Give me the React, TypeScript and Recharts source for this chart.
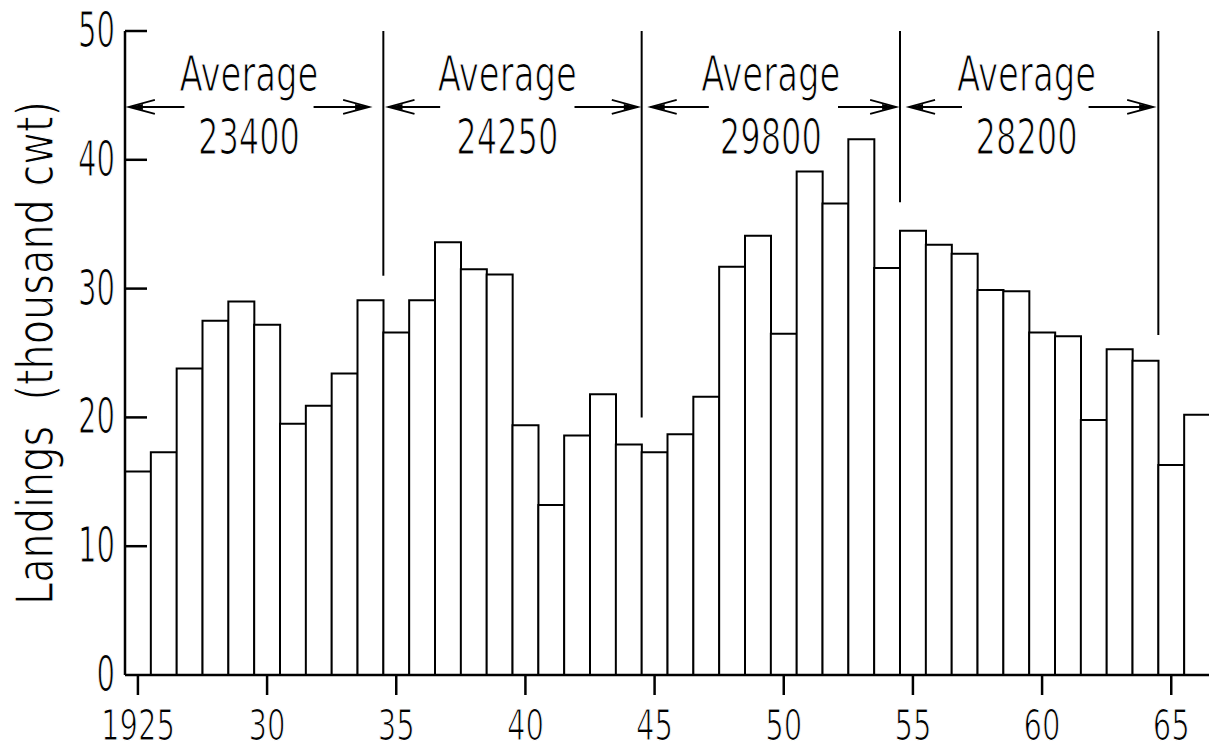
import { BarChart, Bar, XAxis, YAxis, ReferenceLine, ReferenceDot } from "recharts";

// landings per year, thousand cwt
const years = [
  1925, 1926, 1927, 1928, 1929, 1930, 1931, 1932, 1933, 1934,
  1935, 1936, 1937, 1938, 1939, 1940, 1941, 1942, 1943, 1944,
  1945, 1946, 1947, 1948, 1949, 1950, 1951, 1952, 1953, 1954,
  1955, 1956, 1957, 1958, 1959, 1960, 1961, 1962, 1963, 1964,
  1965, 1966,
];
const landings = [
  15.8, 17.3, 23.8, 27.5, 29.0, 27.2, 19.5, 20.9, 23.4, 29.1,
  26.6, 29.1, 33.6, 31.5, 31.1, 19.4, 13.2, 18.6, 21.8, 17.9,
  17.3, 18.7, 21.6, 31.7, 34.1, 26.5, 39.1, 36.6, 41.6, 31.6,
  34.5, 33.4, 32.7, 29.9, 29.8, 26.6, 26.3, 19.8, 25.3, 24.4,
  16.3, 20.2,
];
const xTicks = [1925, 1930, 1935, 1940, 1945, 1950, 1955, 1960, 1965];
const yTicks = [0, 10, 20, 30, 40, 50];

// decade periods and their averages
const dividerX = [1934.5, 1944.5, 1954.5, 1964.5];
const dividerBottom = [31.0, 20.0, 36.7, 26.4];
const averages = ["23400", "24250", "29800", "28200"];
const labelX = [1929.3, 1939.3, 1949.5, 1959.4];
const leftArrowFrom = [1926.8, 1936.7, 1947.1, 1956.9];
const leftArrowTip = [1924.65, 1934.7, 1944.85, 1954.85];
const rightArrowFrom = [1931.8, 1941.9, 1952.1, 1961.8];
const rightArrowTip = [1933.95, 1944.35, 1954.35, 1964.3];
const arrowY = 44.1;

const data = years.map((year, i) => ({ year, landings: landings[i] }));

const FONT = "'Liberation Sans Narrow', 'DejaVu Sans Condensed', sans-serif";
const DIGIT_W = 18.5;
// thin white outline makes the glyphs look lighter, like the drawing pen
const thin = { stroke: "#fff", strokeWidth: 1.2 };

const shortYear = (y: number) => (y === 1925 ? "1925" : String(y).slice(2));

const XTick = ({ x, y, payload }: any) => {
  const label = shortYear(Number(payload.value));
  return (
    <text
      x={x}
      y={y + 45}
      textAnchor="middle"
      fontFamily={FONT}
      fontSize={42}
      fill="#000"
      {...thin}
      textLength={label.length * DIGIT_W}
      lengthAdjust="spacingAndGlyphs"
    >
      {label}
    </text>
  );
};

const YTick = ({ x, y, payload }: any) => {
  const label = String(payload.value);
  return (
    <g>
      {payload.value > 0 && (
        <line x1={x} x2={x + 22} y1={y} y2={y} stroke="#000" strokeWidth={2.5} />
      )}
      <text
        x={x - 10}
        y={y + 16}
        textAnchor="end"
        fontFamily={FONT}
        fontSize={50}
        fill="#000"
        {...thin}
        textLength={label.length * DIGIT_W}
        lengthAdjust="spacingAndGlyphs"
      >
        {label}
      </text>
    </g>
  );
};

const ArrowShape = (p: any) => {
  const { x1, y1, x2, y2 } = p;
  const dir = Math.sign(x2 - x1);
  return (
    <g>
      <line x1={x1} y1={y1} x2={x2} y2={y2} stroke="#000" strokeWidth={2} />
      <polyline
        points={`${x2 - dir * 26},${y2 - 7} ${x2},${y2} ${x2 - dir * 26},${y2 + 7}`}
        fill="none"
        stroke="#000"
        strokeWidth={1.8}
      />
      <polygon
        points={`${x2 - dir * 14},${y2 - 3} ${x2},${y2} ${x2 - dir * 14},${y2 + 3}`}
        fill="#000"
      />
    </g>
  );
};

const AvgLabel = ({ cx, cy, value }: { cx: number; cy: number; value: string }) => (
  <g fontFamily={FONT} fontSize={50} fill="#000" {...thin}>
    <text x={cx} y={cy - 16} textAnchor="middle" textLength={139} lengthAdjust="spacingAndGlyphs">
      Average
    </text>
    <text x={cx} y={cy + 47} textAnchor="middle" textLength={102} lengthAdjust="spacingAndGlyphs">
      {value}
    </text>
  </g>
);

const YLabel = ({ viewBox }: any) => {
  const cy = viewBox.y + viewBox.height / 2;
  return (
    <text
      transform={`translate(53, ${cy}) rotate(-90)`}
      textAnchor="middle"
      fontFamily={FONT}
      fontSize={52}
      fill="#000"
      {...thin}
      textLength={504}
      lengthAdjust="spacingAndGlyphs"
      style={{ whiteSpace: "pre" }}
    >
      {"Landings  (thousand cwt)"}
    </text>
  );
};

export default function App() {
  return (
    <div style={{ position: "fixed", left: 0, top: 0, width: 1209, height: 749, overflow: "hidden", background: "#fff" }}>
      <BarChart
        width={1210}
        height={749}
        data={data}
        margin={{ top: 31, right: 0, bottom: 0, left: 0 }}
        barCategoryGap={0}
        barGap={0}
      >
        <XAxis
          dataKey="year"
          type="number"
          domain={[1924.5, 1966.5]}
          allowDataOverflow
          ticks={xTicks}
          interval={0}
          height={74}
          tickSize={20}
          tickMargin={0}
          axisLine={{ stroke: "#000", strokeWidth: 2.5 }}
          tickLine={{ stroke: "#000", strokeWidth: 2.5 }}
          tick={<XTick />}
        />
        <YAxis
          width={125}
          domain={[0, 50]}
          ticks={yTicks}
          interval={0}
          tickSize={0}
          tickMargin={0}
          tickLine={false}
          axisLine={{ stroke: "#000", strokeWidth: 2.5 }}
          tick={<YTick />}
          label={{ content: <YLabel /> }}
        />
        <Bar
          dataKey="landings"
          fill="#fff"
          stroke="#000"
          strokeWidth={2}
          isAnimationActive={false}
        />
        {dividerX.map((x, i) => (
          <ReferenceLine
            key={`d${i}`}
            segment={[{ x, y: 50 }, { x, y: dividerBottom[i] }]}
            stroke="#000"
            strokeWidth={2}
          />
        ))}
        {leftArrowTip.map((tip, i) => (
          <ReferenceLine
            key={`la${i}`}
            segment={[{ x: leftArrowFrom[i], y: arrowY }, { x: tip, y: arrowY }]}
            shape={ArrowShape}
          />
        ))}
        {rightArrowTip.map((tip, i) => (
          <ReferenceLine
            key={`ra${i}`}
            segment={[{ x: rightArrowFrom[i], y: arrowY }, { x: tip, y: arrowY }]}
            shape={ArrowShape}
          />
        ))}
        {averages.map((avg, i) => (
          <ReferenceDot
            key={`a${i}`}
            x={labelX[i]}
            y={arrowY}
            r={0}
            shape={(p: any) => <AvgLabel cx={p.cx} cy={p.cy} value={avg} />}
          />
        ))}
      </BarChart>
    </div>
  );
}
